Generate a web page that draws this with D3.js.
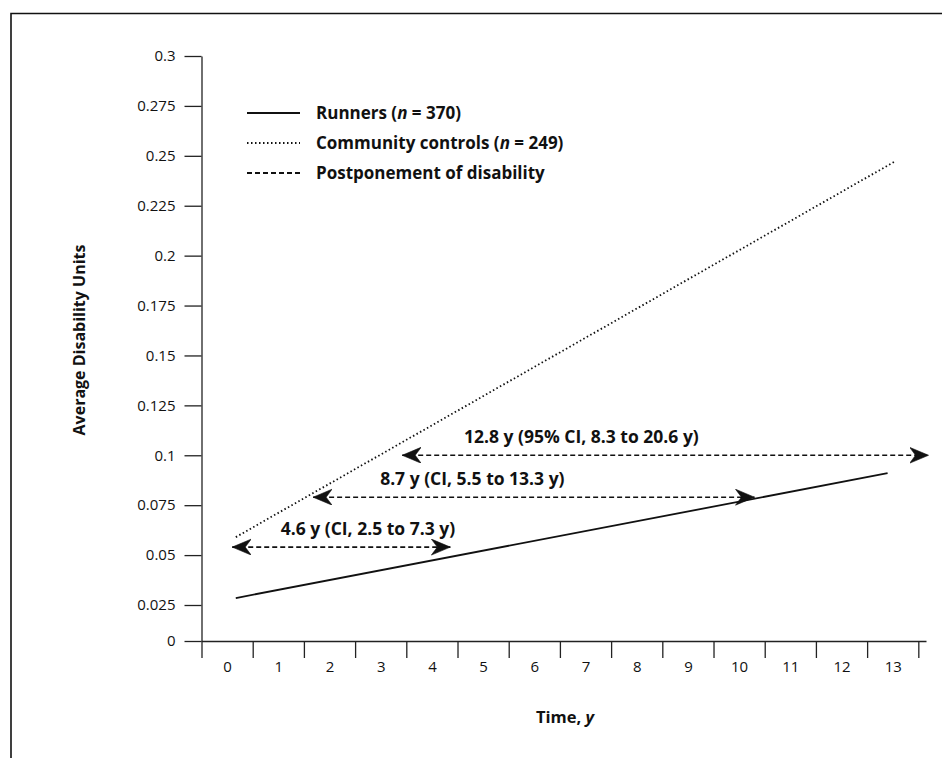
<!DOCTYPE html>
<html>
<head>
<meta charset="utf-8">
<script src="https://cdn.jsdelivr.net/npm/d3@7"></script>
<style>
  body { margin: 0; background: #fff; }
  text { font-family: "Open Sans", sans-serif; fill: #111; }
</style>
</head>
<body>
<script>
// disability curves, runners vs controls
var w = 942;
var h = 758;

var xLabels = [0, 1, 2, 3, 4, 5, 6, 7, 8, 9, 10, 11, 12, 13];
var xBounds = [-0.5, 0.5, 1.5, 2.5, 3.5, 4.5, 5.5, 6.5, 7.5, 8.5, 9.5, 10.5, 11.5, 12.5, 13.5];
var yTicks = [0, 0.025, 0.05, 0.075, 0.1, 0.125, 0.15, 0.175, 0.2, 0.225, 0.25, 0.275, 0.3];
var yLabels = ["0", "0.025", "0.05", "0.075", "0.1", "0.125", "0.15", "0.175", "0.2", "0.225", "0.25", "0.275", "0.3"];

// straight lines, start and end
var runnersT = [0.17, 12.9];
var runnersV = [0.0285, 0.091];
var controlsT = [0.17, 13.03];
var controlsV = [0.059, 0.247];

// postponement arrows
var arrowFrom = [0.1, 1.68, 3.42];
var arrowTo = [4.36, 10.3, 13.7];
var arrowV = [0.054, 0.079, 0.1];
var arrowLabelT = [2.75, 4.79, 6.92];
var arrowLabels = ["4.6 y (CI, 2.5 to 7.3 y)", "8.7 y (CI, 5.5 to 13.3 y)", "12.8 y (95% CI, 8.3 to 20.6 y)"];

var legendNames = ["Runners (", "Community controls (", "Postponement of disability"];
var legendN = ["370", "249", null];
var legendDash = [null, "1.5,2.5", "5,3"];

var svg = d3.select("body").append("svg")
  .attr("width", w)
  .attr("height", h);

var x = d3.scaleLinear().domain([-0.5, 13.65]).range([201.5, 926]);
// the bottom step (0 to 0.025) is shorter in the original figure
var y = d3.scaleLinear().domain([0, 0.025, 0.3]).range([641, 605, 56]);

// frame (top and left edges only)
svg.append("path")
  .attr("d", "M11," + h + " L11,13.5 L" + w + ",13.5")
  .attr("fill", "none")
  .attr("stroke", "#111")
  .attr("stroke-width", 1.6);

// marker
var defs = svg.append("defs");
defs.append("marker")
  .attr("id", "head")
  .attr("markerUnits", "userSpaceOnUse")
  .attr("markerWidth", 22)
  .attr("markerHeight", 18)
  .attr("refX", 19)
  .attr("refY", 8)
  .attr("orient", "auto-start-reverse")
  .append("path")
  .attr("d", "M0,0 L19,8 L0,16 L6,8 Z")
  .attr("fill", "#111")
  .attr("stroke", "#111")
  .attr("stroke-width", 0.6);

// y axis
var yAxis = d3.axisLeft(y)
  .tickValues(yTicks)
  .tickFormat(function(d, i) { return yLabels[i]; })
  .tickSize(17)
  .tickSizeOuter(0)
  .tickPadding(9);

var gy = svg.append("g")
  .attr("transform", "translate(" + x(-0.5) + ",0)")
  .call(yAxis);
gy.selectAll("text").attr("font-size", 15).attr("font-family", "Open Sans, sans-serif").attr("fill", "#111");
gy.selectAll("line, path").attr("stroke", "#222").attr("stroke-width", 1.3);

// x axis: ticks between years
var xAxis = d3.axisBottom(x)
  .tickValues(xBounds)
  .tickFormat("")
  .tickSize(17)
  .tickSizeOuter(0);

var gx = svg.append("g")
  .attr("transform", "translate(0," + y(0) + ")")
  .call(xAxis);
gx.selectAll("line, path").attr("stroke", "#222").attr("stroke-width", 1.3);

var gxl = svg.append("g")
  .attr("transform", "translate(0," + y(0) + ")")
  .call(d3.axisBottom(x).tickValues(xLabels).tickSize(0).tickPadding(20));
gxl.select(".domain").remove();
gxl.selectAll("text").attr("font-size", 15).attr("font-family", "Open Sans, sans-serif").attr("fill", "#111");

// axis titles
svg.append("text")
  .attr("x", x(6.6))
  .attr("y", 723)
  .attr("text-anchor", "middle")
  .attr("font-size", 16.5)
  .attr("font-weight", "bold")
  .html('Time, <tspan font-style="italic">y</tspan>');

svg.append("text")
  .attr("transform", "translate(85,340) rotate(-90)")
  .attr("text-anchor", "middle")
  .attr("font-size", 16)
  .attr("font-weight", "bold")
  .text("Average Disability Units");

// lines
var line = d3.line()
  .x(function(d) { return x(d[0]); })
  .y(function(d) { return y(d[1]); });

svg.append("path")
  .datum(d3.zip(runnersT, runnersV))
  .attr("d", line)
  .attr("fill", "none")
  .attr("stroke", "#111")
  .attr("stroke-width", 1.8);

svg.append("path")
  .datum(d3.zip(controlsT, controlsV))
  .attr("d", line)
  .attr("fill", "none")
  .attr("stroke", "#111")
  .attr("stroke-width", 1.8)
  .attr("stroke-dasharray", "1.5,2.5");

// arrows
svg.selectAll(".arrow")
  .data(arrowV)
  .enter()
  .append("line")
  .attr("class", "arrow")
  .attr("x1", function(d, i) { return x(arrowFrom[i]); })
  .attr("x2", function(d, i) { return x(arrowTo[i]); })
  .attr("y1", function(d) { return y(d); })
  .attr("y2", function(d) { return y(d); })
  .attr("stroke", "#111")
  .attr("stroke-width", 1.6)
  .attr("stroke-dasharray", "5,3")
  .attr("marker-start", "url(#head)")
  .attr("marker-end", "url(#head)");

svg.selectAll(".alabel")
  .data(arrowLabels)
  .enter()
  .append("text")
  .attr("class", "alabel")
  .text(function(d) { return d; })
  .attr("x", function(d, i) { return x(arrowLabelT[i]); })
  .attr("y", function(d, i) { return y(arrowV[i]) - 12; })
  .attr("text-anchor", "middle")
  .attr("font-size", 17.5)
  .attr("font-weight", "bold");

// legend
var lg = svg.append("g");
legendNames.forEach(function(name, i) {
  var ly = 113 + i * 30;
  lg.append("line")
    .attr("x1", 247).attr("x2", 300)
    .attr("y1", ly).attr("y2", ly)
    .attr("stroke", "#111")
    .attr("stroke-width", 1.8)
    .attr("stroke-dasharray", legendDash[i]);
  var t = lg.append("text")
    .attr("x", 316)
    .attr("y", ly + 6)
    .attr("font-size", 17)
    .attr("font-weight", "bold");
  t.append("tspan").text(name);
  if (legendN[i]) {
    t.append("tspan").attr("font-style", "italic").text("n");
    t.append("tspan").text(" = " + legendN[i] + ")");
  }
});
</script>
</body>
</html>
